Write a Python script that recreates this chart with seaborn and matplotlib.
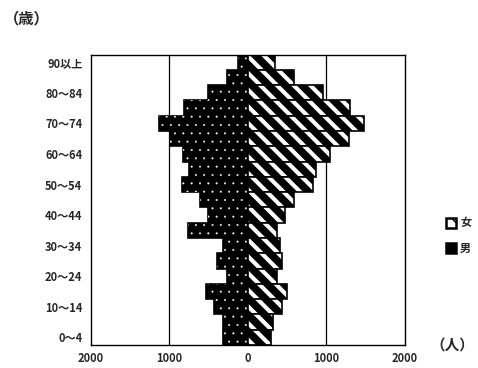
import numpy as np
import pandas as pd
import matplotlib
matplotlib.use("Agg")
import matplotlib.pyplot as plt
import matplotlib.patches as mpatches
import seaborn as sns

ages = ['90以上', '85～89', '80～84', '75～79', '70～74', '65～69', '60～64',
        '55～59', '50～54', '45～49', '40～44', '35～39', '30～34', '25～29',
        '20～24', '15～19', '10～14', '5～9', '0～4']
male = [130, 260, 510, 815, 1135, 995, 830, 750, 840, 610, 510, 765, 320,
        395, 270, 535, 435, 320, 320]
female = [350, 590, 955, 1300, 1480, 1290, 1045, 865, 830, 585, 470, 370,
          410, 430, 370, 495, 430, 320, 295]
shown_labels = ['90以上', '80～84', '70～74', '60～64', '50～54', '40～44',
                '30～34', '20～24', '10～14', '0～4']
xtick_vals = [-2000, -1000, 0, 1000, 2000]
xtick_labels = ['2000', '1000', '0', '1000', '2000']
legend_labels = ['女', '男']

sns.set_style('white')
plt.rcParams['font.family'] = ['Noto Sans CJK JP', 'DejaVu Sans']

df = pd.DataFrame({'age': ages, 'male': -np.array(male), 'female': female})

fig = plt.figure(figsize=(4.78, 3.68), dpi=100)
ax = fig.add_axes([0.190, 0.0625, 0.657, 0.789])

for v in (-1000, 1000):
    ax.axvline(v, color='black', lw=0.9, zorder=0)

# male: black bars with white dots
with plt.rc_context({'hatch.linewidth': 0.2}):
    sns.barplot(data=df, x='male', y='age', order=ages, orient='h',
                color='black', saturation=1, width=1.0, edgecolor='black',
                linewidth=1.2, errorbar=None, ax=ax, zorder=2)
    n0 = len(ax.patches)
    sns.barplot(data=df, x='male', y='age', order=ages, orient='h',
                color='white', saturation=1, width=1.0, fill=False,
                linewidth=0, hatch='..', errorbar=None, ax=ax, zorder=3)
    for p in ax.patches[n0:]:
        if hasattr(p, 'set_hatch_linewidth'):
            p.set_hatch_linewidth(0.2)

n_before = len(ax.patches)
with plt.rc_context({'hatch.linewidth': 5.5}):
    sns.barplot(data=df, x='female', y='age', order=ages, orient='h',
                color='white', saturation=1, width=1.0, edgecolor='black',
                linewidth=1.2, hatch='\\\\', errorbar=None, ax=ax, zorder=2)
    for p in ax.patches[n_before:]:
        if hasattr(p, 'set_hatch_linewidth'):
            p.set_hatch_linewidth(5.5)

ax.set_xlim(-2000, 2000)
ax.set_ylim(len(ages) - 0.5, -0.5)
ax.set_xticks(xtick_vals)
ax.set_xticklabels(xtick_labels, fontsize=8, fontweight='bold')
ax.set_yticks(range(len(ages)))
ax.set_yticklabels([a if a in shown_labels else '' for a in ages],
                   fontsize=8, fontweight='bold')
ax.tick_params(axis='x', length=0, pad=5)
ax.tick_params(axis='y', length=0, pad=6)
ax.set_xlabel('')
ax.set_ylabel('')
for s in ax.spines.values():
    s.set_visible(True)
    s.set_color('black')
    s.set_linewidth(1.0)

fig.text(4 / 478, 1 - 18 / 368, '（歳）', fontsize=11, fontweight='bold',
         va='center', ha='left')
fig.text(430 / 478, 1 - 345 / 368, '（人）', fontsize=10.5, fontweight='bold',
         va='center', ha='left')

h_f = mpatches.Patch(facecolor='white', edgecolor='black', hatch='\\', linewidth=1.8)
h_m = mpatches.Patch(facecolor='black', edgecolor='black', linewidth=1.8)
fig.legend([h_f, h_m], legend_labels, loc='upper left',
           bbox_to_anchor=(443 / 478, 1 - 213 / 368), frameon=False,
           handlelength=0.9, handleheight=1.0, handletextpad=0.35,
           labelspacing=1.1, borderaxespad=0, borderpad=0.3,
           prop={'size': 8, 'weight': 'bold'})

fig.savefig('out.png', dpi=100)
